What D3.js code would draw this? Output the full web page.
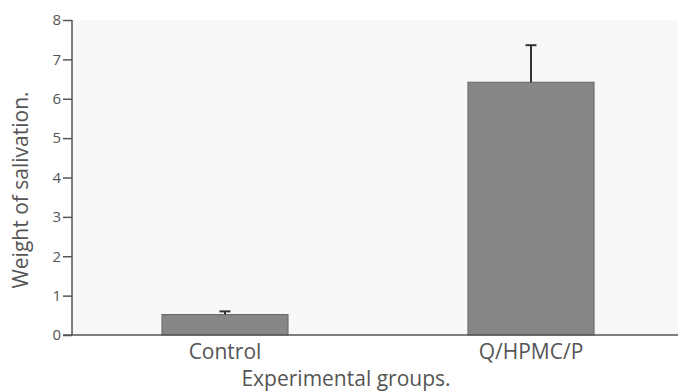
<!DOCTYPE html>
<html>
<head>
<meta charset="utf-8">
<script src="https://cdn.jsdelivr.net/npm/d3@7"></script>
<style>
  body { margin: 0; background: #ffffff; }
  text { font-family: "Open Sans", sans-serif; fill: #555; }
</style>
</head>
<body>
<div class="chart"></div>
<script>
// data
var groups = ["Control", "Q/HPMC/P"];
var means = [0.52, 6.42];
var errors = [0.08, 0.94];
var yTicks = [0, 1, 2, 3, 4, 5, 6, 7, 8];

var svgWidth = 678;
var svgHeight = 392;
var margin = { top: 20, right: 0, bottom: 57, left: 72 };
var height = svgHeight - margin.top - margin.bottom;

var svg = d3.select(".chart")
    .append("svg")
    .attr("width", svgWidth)
    .attr("height", svgHeight);

var chartGroup = svg.append("g")
    .attr("transform", `translate(${margin.left}, ${margin.top})`);

// plot background
chartGroup.append("rect")
    .attr("x", 0)
    .attr("y", 0)
    .attr("width", svgWidth - margin.left)
    .attr("height", height)
    .attr("fill", "#f8f8f8");

var xBand = d3.scaleBand()
    .domain(groups)
    .range([0, 612])
    .paddingInner(0.588)
    .paddingOuter(0.294);

var yLinearScale = d3.scaleLinear()
    .domain([0, 8])
    .range([height, 0]);

// bars
chartGroup.selectAll(".bar")
    .data(groups)
    .enter()
    .append("rect")
    .attr("class", "bar")
    .attr("x", d => xBand(d))
    .attr("y", (d, i) => yLinearScale(means[i]))
    .attr("width", xBand.bandwidth())
    .attr("height", (d, i) => height - yLinearScale(means[i]))
    .attr("fill", "#878787")
    .attr("stroke", "#666")
    .attr("stroke-width", 1);

// error bars (upper only)
var errGroup = chartGroup.selectAll(".err")
    .data(groups)
    .enter()
    .append("g")
    .attr("class", "err");

errGroup.append("line")
    .attr("x1", d => xBand(d) + xBand.bandwidth() / 2)
    .attr("x2", d => xBand(d) + xBand.bandwidth() / 2)
    .attr("y1", (d, i) => yLinearScale(means[i]))
    .attr("y2", (d, i) => yLinearScale(means[i] + errors[i]))
    .attr("stroke", "#333")
    .attr("stroke-width", 2);

errGroup.append("line")
    .attr("x1", d => xBand(d) + xBand.bandwidth() / 2 - 5.5)
    .attr("x2", d => xBand(d) + xBand.bandwidth() / 2 + 5.5)
    .attr("y1", (d, i) => yLinearScale(means[i] + errors[i]))
    .attr("y2", (d, i) => yLinearScale(means[i] + errors[i]))
    .attr("stroke", "#333")
    .attr("stroke-width", 2);

// y axis
var leftAxis = d3.axisLeft(yLinearScale)
    .tickValues(yTicks)
    .tickSize(9)
    .tickPadding(2);

var yAxis = chartGroup.append("g")
    .call(leftAxis);
yAxis.select(".domain").attr("stroke", "#555").attr("stroke-width", 1.5)
    .attr("d", `M0,${height}V0`);
yAxis.selectAll(".tick line").attr("stroke", "#555").attr("stroke-width", 1.5);
yAxis.selectAll(".tick text")
    .style("font-size", "15px")
    .style("fill", "#555");

// x axis line
chartGroup.append("line")
    .attr("x1", -9)
    .attr("x2", svgWidth - margin.left)
    .attr("y1", height)
    .attr("y2", height)
    .attr("stroke", "#555")
    .attr("stroke-width", 1.5);

// category labels
chartGroup.selectAll(".xlabel")
    .data(groups)
    .enter()
    .append("text")
    .attr("class", "xlabel")
    .attr("x", d => xBand(d) + xBand.bandwidth() / 2)
    .attr("y", height + 24)
    .attr("text-anchor", "middle")
    .style("font-size", "21px")
    .text(d => d);

// axis titles
svg.append("text")
    .attr("x", 346)
    .attr("y", 386)
    .attr("text-anchor", "middle")
    .style("font-size", "21px")
    .text("Experimental groups.");

svg.append("text")
    .attr("transform", "rotate(-90)")
    .attr("x", -190)
    .attr("y", 28)
    .attr("text-anchor", "middle")
    .style("font-size", "21px")
    .text("Weight of salivation.");
</script>
</body>
</html>
